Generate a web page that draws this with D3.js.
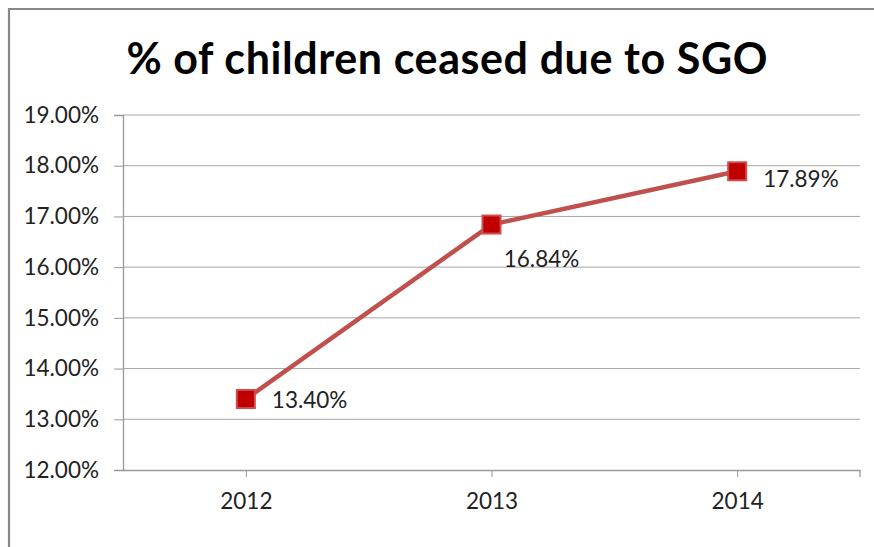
<!DOCTYPE html>
<html>
<head>
<meta charset="utf-8">
<script src="https://cdn.jsdelivr.net/npm/d3@7"></script>
<style>
  html, body { margin: 0; padding: 0; background: #fff; }
  svg { display: block; font-family: Lato, "Open Sans", sans-serif; }
</style>
</head>
<body>
<svg id="chart" width="874" height="547"></svg>
<script>
// data
let years = ['2012', '2013', '2014'];
let shares = [13.40, 16.84, 17.89];
let yTicks = [12, 13, 14, 15, 16, 17, 18, 19];
let title = '% of children ceased due to SGO';

let svg = d3.select('#chart');
let plot = {left: 123, right: 860, top: 115, bottom: 470};

// outer chart frame (only left and top edges show)
svg.append('path')
    .attr('d', 'M9,547 V9 H874')
    .attr('fill', 'none')
    .attr('stroke', '#888')
    .attr('stroke-width', 2.2);

svg.append('text')
    .attr('x', 447)
    .attr('y', 74)
    .attr('text-anchor', 'middle')
    .attr('font-weight', 'bold')
    .attr('font-size', 43)
    .attr('textLength', 641)
    .attr('lengthAdjust', 'spacing')
    .attr('fill', '#000')
    .text(title);

let x = d3.scaleBand().domain(years).range([plot.left, plot.right]);
let y = d3.scaleLinear().domain([12, 19]).range([plot.bottom, plot.top]);
let cx = d => x(d) + x.bandwidth() / 2;

// gridlines
svg.append('g')
    .selectAll('line')
    .data(yTicks.slice(1))
    .enter().append('line')
    .attr('x1', plot.left).attr('x2', plot.right)
    .attr('y1', d => y(d)).attr('y2', d => y(d))
    .attr('stroke', '#a6a6a6')
    .attr('stroke-width', 1);

// y axis
let yAxis = svg.append('g')
    .attr('transform', `translate(${plot.left},0)`)
    .call(d3.axisLeft(y).tickValues(yTicks).tickSize(9).tickPadding(15)
        .tickFormat(d => d3.format('.2f')(d) + '%'));
yAxis.select('.domain').attr('stroke', '#999').attr('stroke-width', 1.3);
yAxis.selectAll('.tick line').attr('stroke', '#999');
yAxis.selectAll('.tick text')
    .attr('font-size', 22.5)
    .attr('fill', '#222')
    .attr('font-family', 'Lato, sans-serif');

// x axis: ticks at category centres plus the right end
let xAxis = svg.append('g')
    .attr('transform', `translate(0,${plot.bottom})`)
    .call(d3.axisBottom(d3.scalePoint().domain(years).range([cx(years[0]), cx(years[2])]))
        .tickSize(7).tickPadding(16).tickSizeOuter(0));
xAxis.select('.domain')
    .attr('d', `M${plot.left},0.5H${plot.right}V7`)
    .attr('stroke', '#999').attr('stroke-width', 1.3);
xAxis.selectAll('.tick line').attr('stroke', '#999');
xAxis.selectAll('.tick text')
    .attr('font-size', 22.5)
    .attr('fill', '#222')
    .attr('font-family', 'Lato, sans-serif');

// series line
let pts = years.map((d, i) => [cx(d), y(shares[i])]);
svg.append('path')
    .attr('d', d3.line()(pts))
    .attr('fill', 'none')
    .attr('stroke', '#c0504d')
    .attr('stroke-width', 4.5);

svg.append('g')
    .selectAll('rect')
    .data(pts)
    .enter().append('rect')
    .attr('x', d => d[0] - 9)
    .attr('y', d => d[1] - 9)
    .attr('width', 18).attr('height', 18)
    .attr('fill', '#c00000')
    .attr('stroke', '#d24b4b')
    .attr('stroke-width', 2);

// data labels: right of point, except 2013 which sits below
let labelPos = [
    {dx: 26, dy: 9, anchor: 'start'},
    {dx: 50, dy: 42, anchor: 'middle'},
    {dx: 26, dy: 16, anchor: 'start'}
];
svg.append('g')
    .selectAll('text')
    .data(pts)
    .enter().append('text')
    .attr('x', (d, i) => d[0] + labelPos[i].dx)
    .attr('y', (d, i) => d[1] + labelPos[i].dy)
    .attr('text-anchor', (d, i) => labelPos[i].anchor)
    .attr('font-size', 22.5)
    .attr('fill', '#222')
    .text((d, i) => d3.format('.2f')(shares[i]) + '%');
</script>
</body>
</html>
